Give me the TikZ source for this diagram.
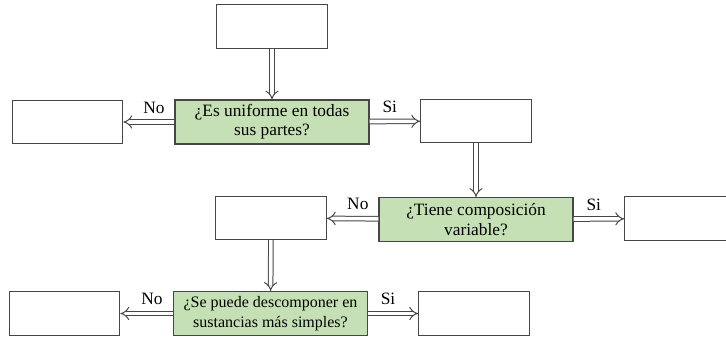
\documentclass[tikz,border=0pt]{standalone}
\usepackage{fontspec}
\setmainfont{Liberation Serif}
\usetikzlibrary{arrows.meta}
\definecolor{qgreen}{RGB}{197,224,180}
\definecolor{edgegray}{RGB}{70,70,70}

\begin{document}
\begin{tikzpicture}[x=0.75pt,y=-0.75pt]
		\tikzstyle{blank} = [rectangle, draw=edgegray, line width=0.8pt, minimum width=83pt, minimum height=32.5pt, inner sep=0pt]
		\tikzstyle{question} = [rectangle, draw=edgegray, line width=0.8pt, fill=qgreen, text centered, align=center, minimum width=145.5pt, minimum height=33pt, inner sep=0pt, font=\fontsize{13}{14.5}\selectfont]
		\tikzstyle{connector} = [draw=edgegray, line width=0.75pt, double=white, double distance=2.7pt, -{Implies[scale=1.2]}]
		\tikzstyle{answer} = [above, pos=0.4, font=\fontsize{13}{14.5}\selectfont, inner sep=6pt]
		\useasboundingbox (0,0) rectangle (726,337);
		\node [blank] at (272,26.5) (start) {};
		\node [question] at (272,122) (quest1) {¿Es uniforme en todas\\sus partes?};
		\node [blank] at (67.5,122) (data10) {};
		\node [blank] at (476,121) (data20) {};
		\node [question] at (476,219.5) (quest2) {¿Tiene composición\\variable?};
		\node [blank] at (271,218) (data11) {};
		\node [blank] at (680,218.5) (data21) {};
		\node [question, font=\fontsize{12}{14.5}\selectfont] at (270.5,313.5) (quest3) {¿Se puede descomponer en\\sustancias más simples?};
		\node [blank] at (64.5,313.5) (data12) {};
		\node [blank] at (474,313.5) (data22) {};
		\path [connector] (start) -- (quest1);
		\path [connector] (quest1) -- node [answer] {No} (data10);
		\path [connector] (quest1) -- node [answer] {Si} (data20);
		\path [connector] (data20) -- (quest2);
		\path [connector] (quest2) -- node [answer] {No} (data11);
		\path [connector] (quest2) -- node [answer] {Si} (data21);
		\path [connector] (data11) -- (quest3);
		\path [connector] (quest3) -- node [answer] {No} (data12);
		\path [connector] (quest3) -- node [answer] {Si} (data22);
	\end{tikzpicture}
\end{document}
